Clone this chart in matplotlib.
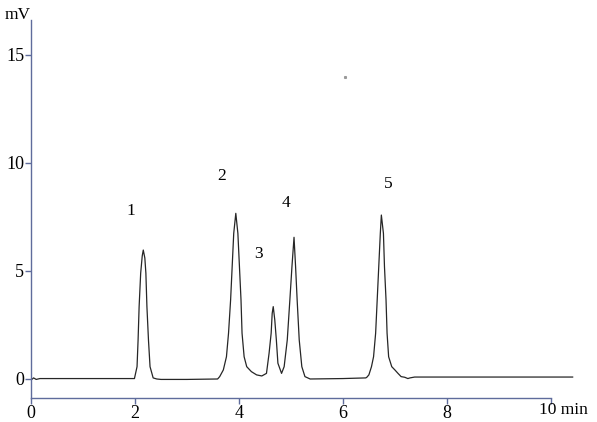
import matplotlib
matplotlib.use("Agg")
import matplotlib.pyplot as plt

# chromatogram trace (time in min, signal in mV)
time_min = [0.00, 0.05, 0.10, 0.17, 1.00, 1.99,
            2.04, 2.06, 2.08, 2.11, 2.14, 2.16, 2.19, 2.21, 2.23, 2.26, 2.29, 2.35, 2.42,
            2.50, 3.00, 3.59,
            3.63, 3.70, 3.76, 3.80, 3.84, 3.87, 3.90, 3.94, 3.98, 4.01, 4.04, 4.06, 4.10,
            4.15, 4.24, 4.34, 4.44, 4.53,
            4.58, 4.62, 4.64, 4.66, 4.69, 4.72, 4.75, 4.82,
            4.87, 4.93, 4.98, 5.02, 5.06, 5.09, 5.12, 5.16, 5.21, 5.27, 5.37,
            6.00, 6.44,
            6.46, 6.50, 6.55, 6.59, 6.63, 6.66, 6.69, 6.72, 6.74, 6.78, 6.80, 6.83, 6.85, 6.88,
            6.94, 7.00, 7.06, 7.12, 7.19, 7.25, 7.29, 7.38, 8.50, 10.42]
signal_mv = [-0.05, 0.05, -0.02, 0.02, 0.02, 0.02,
             0.57, 1.80, 3.35, 4.90, 5.70, 5.97, 5.60, 4.90, 3.35, 1.80, 0.57, 0.05, 0.00,
             -0.02, -0.02, 0.00,
             0.11, 0.42, 1.03, 2.12, 3.66, 5.20, 6.74, 7.67, 6.74, 5.20, 3.66, 2.12, 1.03,
             0.57, 0.34, 0.19, 0.14, 0.26,
             1.19, 2.12, 3.04, 3.35, 2.73, 1.81, 0.73, 0.26,
             0.57, 1.81, 3.66, 5.20, 6.56, 5.20, 3.66, 1.81, 0.57, 0.11, 0.00,
             0.02, 0.05,
             0.08, 0.19, 0.57, 1.03, 2.12, 3.66, 5.20, 6.74, 7.59, 6.74, 5.20, 3.66, 2.12, 1.03,
             0.57, 0.42, 0.26, 0.11, 0.08, 0.02, 0.05, 0.09, 0.09, 0.09]

peak_names = ["1", "2", "3", "4", "5"]
peak_label_t = [1.92, 3.67, 4.37, 4.90, 6.88]
peak_label_v = [7.78, 9.40, 5.79, 8.15, 9.03]

x_ticks = [0, 2, 4, 6, 8, 10]
x_tick_labels = ["0", "2", "4", "6", "8", ""]
y_ticks = [0, 5, 10, 15]

speck = (6.04, 13.98)  # small stray dot in the original image

axis_col = "#5f6c9c"
plt.rcParams['font.family'] = 'Liberation Serif'

fig = plt.figure(figsize=(5.97, 4.22), dpi=100)
ax = fig.add_axes([31 / 597, 1 - 398 / 422, (582 - 31) / 597, (398 - 20) / 422])

ax.plot(time_min, signal_mv, color="#262626", lw=0.9)
ax.plot([speck[0]], [speck[1]], marker="s", ms=1.2, color="#999999", lw=0)

for name, t, v in zip(peak_names, peak_label_t, peak_label_v):
    ax.text(t, v, name, fontsize=12.5, ha="center", va="center")

ax.set_xlim(0, 10.6)
ax.set_ylim(-0.88, 16.62)
ax.set_xticks(x_ticks)
ax.set_xticklabels(x_tick_labels)
ax.set_yticks(y_ticks)

for side in ("top", "right"):
    ax.spines[side].set_visible(False)
for side in ("left", "bottom"):
    ax.spines[side].set_color(axis_col)
    ax.spines[side].set_linewidth(1.0)
ax.spines["bottom"].set_bounds(0, 10)
ax.tick_params(colors=axis_col, labelcolor="black", labelsize=13, length=4, width=1.0, pad=1)

# last tick label sits just left of its tick, with the unit after it
ax.text(539 / 597, 1 - 402 / 422, "10 min", fontsize=12.5, ha="left", va="top",
        transform=fig.transFigure)
fig.text(5 / 597, 1 - 15 / 422, "mV", fontsize=12.5, ha="left", va="center")

fig.savefig("out.png", dpi=100)
